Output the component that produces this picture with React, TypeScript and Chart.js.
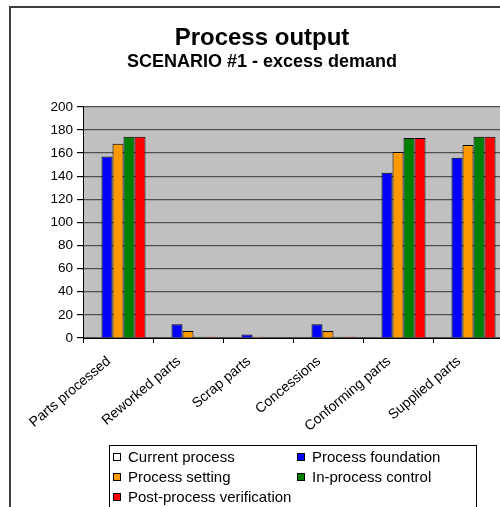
import React, { useEffect, useRef } from "react";
import { Chart, registerables } from "chart.js";

Chart.register(...registerables);

const FONT = "Arial, 'Liberation Sans', Helvetica, sans-serif";

const categories = [
  "Parts processed",
  "Reworked parts",
  "Scrap parts",
  "Concessions",
  "Conforming parts",
  "Supplied parts",
];
const seriesNames = [
  "Current process",
  "Process foundation",
  "Process setting",
  "In-process control",
  "Post-process verification",
];
const currentProcess = [0, 0, 0, 0, 0, 0];
const processFoundation = [157, 12, 3, 12, 143, 156];
const processSetting = [168, 6, 1, 6, 161, 167];
const inProcessControl = [174, 1, 0, 1, 173, 174];
const postProcessVerification = [174, 1, 0, 1, 173, 174];
const seriesColors = ["#FFFFFF", "#0000FF", "#FF9900", "#008000", "#FF0000"];
const yMin = 0;
const yMax = 200;
const yStep = 20;

const plotBg = {
  id: "plotBg",
  beforeDraw(chart: any) {
    const { ctx, chartArea } = chart;
    ctx.save();
    ctx.fillStyle = "#C0C0C0";
    ctx.fillRect(chartArea.left, chartArea.top, chartArea.width, chartArea.height);
    ctx.restore();
  },
};

const boxLegend = {
  id: "boxLegend",
  afterDraw(chart: any, _args: any, opts: any) {
    const { ctx } = chart;
    const datasets = chart.data.datasets;
    ctx.save();
    ctx.strokeStyle = "#000";
    ctx.lineWidth = 1;
    ctx.strokeRect(opts.left + 0.5, opts.top + 0.5, opts.width, opts.height);
    ctx.font = `${opts.fontSize}px ${FONT}`;
    ctx.textBaseline = "middle";
    ctx.textAlign = "left";
    datasets.forEach((ds: any, i: number) => {
      const col = i % 2;
      const row = Math.floor(i / 2);
      const x = opts.left + opts.colX[col];
      const y = opts.top + opts.rowY[row];
      ctx.fillStyle = ds.backgroundColor;
      ctx.fillRect(x, y - 4, 8, 8);
      ctx.strokeStyle = "#000";
      ctx.strokeRect(x + 0.5, y - 3.5, 7, 7);
      ctx.fillStyle = "#000";
      ctx.fillText(ds.label, x + 15, y + 1);
    });
    ctx.restore();
  },
};

export default function App() {
  const ref = useRef<HTMLCanvasElement>(null);

  useEffect(() => {
    if (!ref.current) return;
    const values = [
      currentProcess,
      processFoundation,
      processSetting,
      inProcessControl,
      postProcessVerification,
    ];
    const chart = new Chart(ref.current, {
      type: "bar",
      data: {
        labels: categories,
        datasets: seriesNames.map((name, i) => ({
          label: name,
          data: values[i],
          backgroundColor: seriesColors[i],
          borderColor: "#000",
          borderWidth: 1,
          borderSkipped: "bottom",
          categoryPercentage: 0.786,
          barPercentage: 1,
        })),
      },
      options: {
        animation: false,
        responsive: false,
        devicePixelRatio: 1,
        layout: { padding: { left: 10, right: 10, top: 0, bottom: 110 } },
        plugins: {
          legend: { display: false },
          tooltip: { enabled: false },
          title: {
            display: true,
            text: "Process output",
            color: "#000",
            font: { family: FONT, size: 24, weight: "bold", lineHeight: 1.2 },
            padding: { top: 16, bottom: 0 },
          },
          subtitle: {
            display: true,
            text: "SCENARIO #1 - excess demand",
            color: "#000",
            font: { family: FONT, size: 18, weight: "bold", lineHeight: 1 },
            padding: { top: 0, bottom: 36 },
          },
          boxLegend: {
            left: 98,
            top: 437,
            width: 367,
            height: 120,
            fontSize: 15,
            colX: [4, 188],
            rowY: [12, 32, 52],
          },
        } as any,
        scales: {
          x: {
            offset: true,
            grid: {
              display: true,
              offset: true,
              drawOnChartArea: false,
              drawTicks: true,
              tickLength: 5,
              color: "#000",
              tickColor: "#000",
            },
            border: { display: true, color: "#000", width: 1 },
            ticks: {
              maxRotation: 40,
              minRotation: 40,
              autoSkip: false,
              color: "#000",
              padding: 10,
              labelOffset: -9,
              font: { family: FONT, size: 14 },
            },
            afterFit: (s: any) => {
              s.height = 100;
            },
          },
          y: {
            min: yMin,
            max: yMax,
            ticks: {
              stepSize: yStep,
              color: "#000",
              padding: 4,
              font: { family: FONT, size: 13.5 },
            },
            grid: {
              color: "#505050",
              lineWidth: 1.2,
              tickLength: 6,
              drawTicks: true,
              tickColor: "#000",
            },
            border: { display: true, color: "#000", width: 1 },
            afterFit: (s: any) => {
              s.width = 62;
            },
          },
        },
      },
      plugins: [plotBg, boxLegend],
    });
    return () => chart.destroy();
  }, []);

  return (
    <div
      style={{
        position: "fixed",
        left: 0,
        top: 0,
        width: 500,
        height: 507,
        overflow: "hidden",
        background: "#fff",
      }}
    >
      <div
        style={{
          position: "absolute",
          left: 9,
          top: 6,
          width: 506,
          height: 560,
          border: "2px solid #404040",
        }}
      >
        <canvas
          ref={ref}
          width={502}
          height={540}
          style={{ display: "block", width: 502, height: 540 }}
        />
      </div>
    </div>
  );
}
